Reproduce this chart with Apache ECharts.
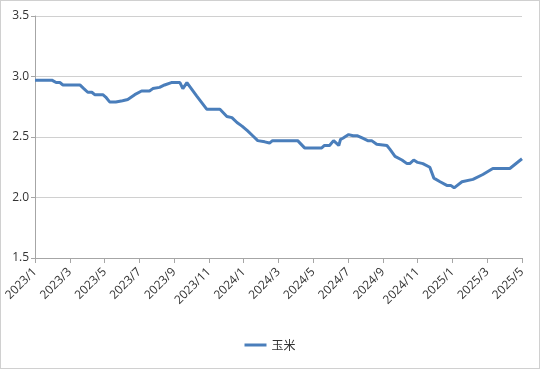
<!DOCTYPE html>
<html><head><meta charset="utf-8">
<script src="https://cdn.jsdelivr.net/npm/echarts@6/dist/echarts.min.js"></script>
<style>
html,body{margin:0;padding:0;background:#fff;}
#c{width:540px;height:369px;box-sizing:border-box;border:1px solid #d0d0d0;}
</style></head>
<body><div id="c"></div>
<script>
var seriesName = "玉米";
var dates = ["2023-01-01","2023-01-31","2023-02-07","2023-02-13","2023-02-18","2023-03-19","2023-03-26","2023-04-02","2023-04-09","2023-04-14","2023-04-28","2023-05-03","2023-05-10","2023-05-21","2023-06-02","2023-06-11","2023-06-23","2023-07-05","2023-07-19","2023-07-25","2023-08-06","2023-08-15","2023-08-27","2023-09-11","2023-09-16","2023-09-23","2023-10-10","2023-10-28","2023-11-20","2023-12-02","2023-12-11","2023-12-20","2023-12-29","2024-01-08","2024-01-17","2024-01-26","2024-02-07","2024-02-15","2024-02-20","2024-04-04","2024-04-16","2024-05-16","2024-05-21","2024-05-30","2024-06-06","2024-06-15","2024-06-18","2024-06-22","2024-07-02","2024-07-10","2024-07-18","2024-07-27","2024-08-05","2024-08-12","2024-08-21","2024-09-08","2024-09-13","2024-09-22","2024-10-04","2024-10-13","2024-10-18","2024-10-25","2024-11-01","2024-11-10","2024-11-22","2024-11-29","2024-12-10","2024-12-22","2024-12-29","2025-01-04","2025-01-18","2025-02-06","2025-02-22","2025-03-11","2025-04-10","2025-05-01"];
var values = [2.97,2.97,2.95,2.95,2.93,2.93,2.90,2.87,2.87,2.85,2.85,2.83,2.79,2.79,2.80,2.81,2.85,2.88,2.88,2.90,2.91,2.93,2.95,2.95,2.90,2.95,2.84,2.73,2.73,2.67,2.66,2.62,2.59,2.55,2.51,2.47,2.46,2.45,2.47,2.47,2.41,2.41,2.43,2.43,2.47,2.43,2.48,2.49,2.52,2.51,2.51,2.49,2.47,2.47,2.44,2.43,2.40,2.34,2.31,2.28,2.28,2.31,2.29,2.28,2.25,2.16,2.13,2.10,2.10,2.08,2.13,2.15,2.19,2.24,2.24,2.32];
var tickLabels = ["2023/1","2023/3","2023/5","2023/7","2023/9","2023/11","2024/1","2024/3","2024/5","2024/7","2024/9","2024/11","2025/1","2025/3","2025/5"];
var yMin = 1.5, yMax = 3.5, yStep = 0.5;

function monthIndex(s){
  var p = s.split("-").map(Number);
  var dim = new Date(p[0], p[1], 0).getDate();
  return (p[0]-2023)*12 + (p[1]-1) + (p[2]-1)/dim;
}
var data = dates.map(function(d,i){ return [monthIndex(d), values[i]]; });

var chart = echarts.init(document.getElementById('c'), null, {renderer:'canvas'});
var font = '"Open Sans", "DejaVu Sans", sans-serif';
chart.setOption({
  animation:false,
  grid:{left:34, right:17, top:15, bottom:110},
  legend:{bottom:12, left:'center', data:[seriesName], icon:'path://M0,0 L22,0 L22,3 L0,3 Z', itemWidth:22, itemHeight:3, itemGap:8,
    textStyle:{fontFamily:'"Noto Sans CJK SC", sans-serif', fontSize:12, color:'#333'}},
  xAxis:{type:'value', min:0, max:28, interval:2,
    axisLine:{lineStyle:{color:'#a6a6a6'}},
    axisTick:{show:true, length:5, lineStyle:{color:'#a6a6a6'}},
    splitLine:{show:false},
    axisLabel:{rotate:45, fontSize:12, color:'#333', fontFamily:font, margin:12, showMinLabel:true, showMaxLabel:true, hideOverlap:false,
      formatter:function(v){ return tickLabels[Math.round(v/2)]; }}
  },
  yAxis:{type:'value', min:yMin, max:yMax, interval:yStep,
    axisLine:{show:true, lineStyle:{color:'#a6a6a6'}},
    axisTick:{show:true, length:4, lineStyle:{color:'#a6a6a6'}},
    splitLine:{lineStyle:{color:'#d0d0d0'}},
    axisLabel:{fontSize:12, color:'#333', fontFamily:font, margin:6,
      formatter:function(v){ return v.toFixed(1); }}
  },
  series:[{name:seriesName, type:'line', data:data, showSymbol:false, symbol:'none',
    lineStyle:{color:'#4a7ebb', width:3}, itemStyle:{color:'#4a7ebb'}}]
});
</script></body></html>
